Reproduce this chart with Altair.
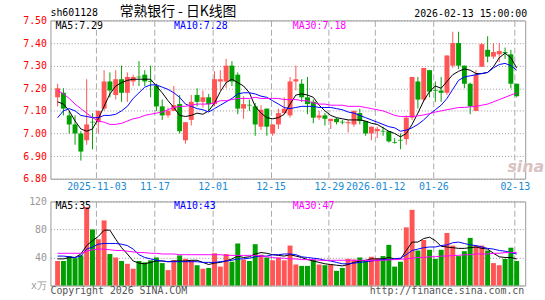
import altair as alt
import pandas as pd

# ---------------- data ----------------
# candle index 0 = 2025-10-23 ... 79 = 2026-02-13 (trading days)
opens = [7.16, 7.18, 7.08, 7.04, 7.00, 6.97, 7.05, 7.05, 7.11, 7.23,
         7.17, 7.24, 7.18, 7.23, 7.25, 7.26, 7.23, 7.21, 7.12, 7.08,
         7.10, 7.13, 6.97, 7.06, 7.17, 7.14, 7.16, 7.13, 7.23, 7.23,
         7.30, 7.26, 7.11, 7.125, 7.12, 7.03, 7.11, 7.00, 7.04, 7.09,
         7.08, 7.23, 7.22, 7.16, 7.14, 7.07, 7.08, 7.055, 7.065, 7.05,
         7.045, 7.04, 7.09, 7.055, 7.00, 7.01, 7.01, 7.01, 6.96, 6.97,
         6.975, 7.07, 7.23, 7.15, 7.28, 7.19, 7.19, 7.18, 7.30, 7.40,
         7.30, 7.22, 7.10, 7.295, 7.37, 7.34, 7.35, 7.36, 7.35, 7.22]
closes = [7.20, 7.11, 7.04, 7.00, 6.92, 7.04, 7.05, 7.10, 7.23, 7.19,
          7.24, 7.18, 7.25, 7.25, 7.25, 7.23, 7.23, 7.12, 7.08, 7.10,
          7.125, 7.01, 7.05, 7.14, 7.14, 7.16, 7.13, 7.24, 7.24, 7.30,
          7.23, 7.11, 7.13, 7.125, 7.04, 7.105, 7.03, 7.04, 7.09, 7.11,
          7.23, 7.24, 7.16, 7.13, 7.07, 7.08, 7.065, 7.065, 7.05, 7.05,
          7.05, 7.10, 7.055, 7.00, 7.03, 7.02, 7.01, 6.965, 6.96, 6.97,
          7.07, 7.25, 7.15, 7.29, 7.185, 7.19, 7.18, 7.345, 7.40, 7.30,
          7.22, 7.12, 7.26, 7.395, 7.34, 7.36, 7.365, 7.355, 7.22, 7.165]
highs = [7.22, 7.20, 7.10, 7.08, 7.01, 7.24, 7.09, 7.10, 7.28, 7.27,
         7.28, 7.30, 7.27, 7.26, 7.32, 7.28, 7.30, 7.22, 7.15, 7.115,
         7.21, 7.17, 7.05, 7.17, 7.20, 7.19, 7.175, 7.275, 7.28, 7.33,
         7.32, 7.27, 7.165, 7.15, 7.135, 7.125, 7.11, 7.04, 7.11, 7.16,
         7.25, 7.30, 7.24, 7.25, 7.15, 7.10, 7.09, 7.065, 7.07, 7.06,
         7.06, 7.10, 7.11, 7.055, 7.03, 7.03, 7.03, 7.01, 6.98, 7.00,
         7.08, 7.25, 7.25, 7.29, 7.28, 7.23, 7.25, 7.345, 7.45, 7.45,
         7.30, 7.225, 7.28, 7.40, 7.43, 7.40, 7.40, 7.38, 7.37, 7.22]
lows = [7.12, 7.08, 7.00, 6.95, 6.88, 6.95, 6.93, 7.00, 7.10, 7.16,
        7.15, 7.14, 7.14, 7.21, 7.21, 7.21, 7.16, 7.10, 7.06, 7.07,
        7.10, 7.00, 6.955, 7.035, 7.12, 7.115, 7.10, 7.12, 7.19, 7.20,
        7.21, 7.085, 7.065, 7.10, 6.99, 7.015, 6.99, 6.99, 7.02, 7.09,
        7.07, 7.19, 7.14, 7.085, 7.045, 7.06, 7.035, 7.02, 7.04, 7.04,
        7.005, 7.03, 7.04, 6.99, 6.97, 6.98, 6.99, 6.96, 6.955, 6.93,
        6.95, 7.06, 7.11, 7.14, 7.16, 7.14, 7.14, 7.17, 7.29, 7.285,
        7.20, 7.085, 7.10, 7.295, 7.315, 7.33, 7.315, 7.33, 7.20, 7.16]
volumes = [35, 35, 42, 39, 43, 112, 80, 66, 93, 45,
           40, 35, 31, 24, 35, 33, 36, 40, 32, 22,
           36, 43, 38, 36, 29, 24, 25, 46, 27, 45,
           34, 60, 37, 35, 59, 44, 40, 36, 40, 36,
           57, 30, 28, 28, 37, 30, 29, 30, 21, 25,
           38, 37, 40, 35, 41, 39, 42, 58, 27, 34,
           83, 108, 50, 65, 51, 38, 51, 75, 57, 42,
           49, 68, 57, 57, 50, 32, 29, 38, 54, 35]
ma5 = [7.14, 7.13, 7.10, 7.055, 7.02, 7.01, 7.02, 7.065, 7.12, 7.175,
       7.21, 7.225, 7.235, 7.24, 7.24, 7.24, 7.24, 7.21, 7.18, 7.145,
       7.115, 7.08, 7.075, 7.08, 7.09, 7.085, 7.10, 7.135, 7.185, 7.225,
       7.24, 7.225, 7.21, 7.18, 7.12, 7.09, 7.07, 7.065, 7.07, 7.085,
       7.13, 7.17, 7.175, 7.17, 7.16, 7.125, 7.10, 7.08, 7.07, 7.065,
       7.06, 7.06, 7.06, 7.055, 7.045, 7.04, 7.025, 7.01, 7.00, 6.985,
       7.00, 7.04, 7.09, 7.145, 7.185, 7.21, 7.20, 7.23, 7.26, 7.275,
       7.285, 7.28, 7.265, 7.265, 7.27, 7.295, 7.335, 7.355, 7.335, 7.29]
ma10 = [7.07, 7.10, 7.11, 7.10, 7.08, 7.075, 7.07, 7.07, 7.08, 7.08,
        7.085, 7.10, 7.12, 7.155, 7.18, 7.205, 7.215, 7.215, 7.205, 7.195,
        7.18, 7.16, 7.13, 7.12, 7.11, 7.105, 7.095, 7.11, 7.125, 7.14,
        7.155, 7.175, 7.18, 7.18, 7.175, 7.165, 7.16, 7.145, 7.13, 7.115,
        7.11, 7.115, 7.12, 7.12, 7.12, 7.115, 7.115, 7.115, 7.11, 7.105,
        7.095, 7.09, 7.08, 7.07, 7.06, 7.05, 7.04, 7.03, 7.025, 7.01,
        7.015, 7.025, 7.04, 7.06, 7.085, 7.105, 7.125, 7.155, 7.195, 7.235,
        7.25, 7.255, 7.26, 7.265, 7.27, 7.29, 7.305, 7.31, 7.30, 7.28]
ma30 = [7.19, 7.175, 7.155, 7.13, 7.11, 7.09, 7.07, 7.055, 7.05, 7.04,
        7.04, 7.045, 7.055, 7.065, 7.07, 7.08, 7.085, 7.09, 7.095, 7.105,
        7.115, 7.12, 7.12, 7.125, 7.13, 7.13, 7.13, 7.135, 7.145, 7.145,
        7.15, 7.155, 7.155, 7.155, 7.16, 7.155, 7.155, 7.155, 7.155, 7.15,
        7.15, 7.15, 7.145, 7.145, 7.135, 7.13, 7.13, 7.125, 7.125, 7.125,
        7.12, 7.12, 7.12, 7.115, 7.11, 7.105, 7.10, 7.09, 7.08, 7.075,
        7.075, 7.075, 7.078, 7.082, 7.088, 7.095, 7.10, 7.105, 7.11, 7.115,
        7.115, 7.118, 7.12, 7.125, 7.13, 7.14, 7.15, 7.16, 7.17, 7.18]
vma5 = [38, 38, 40, 40, 45, 57, 64, 70, 79, 79,
        66, 54, 45, 35, 32, 31, 33, 35, 35, 34,
        35, 35, 35, 36, 36, 33, 30, 32, 33, 35,
        38, 42, 40, 41, 45, 47, 46, 44, 43, 42,
        44, 42, 40, 37, 35, 33, 31, 30, 29, 28,
        30, 33, 35, 36, 38, 38, 38, 40, 38, 38,
        50, 62, 62, 67, 69, 64, 56, 55, 54, 53,
        53, 54, 55, 53, 52, 46, 41, 40, 40, 38]
vma10 = [42, 42, 41, 40, 42, 52, 55, 59, 60, 60,
         60, 59, 57, 52, 44, 40, 38, 36, 35, 34,
         34, 34, 34, 34, 34, 33, 33, 33, 34, 35,
         36, 38, 38, 39, 41, 42, 42, 44, 44, 45,
         45, 44, 41, 40, 39, 38, 36, 35, 33, 31,
         31, 32, 33, 34, 35, 36, 37, 37, 38, 39,
         44, 50, 52, 54, 55, 55, 57, 58, 61, 62,
         60, 58, 57, 55, 53, 52, 50, 49, 47, 45]
vma30 = [46, 46, 46, 46, 46, 49, 51, 52, 52, 51,
         50, 50, 49, 48, 47, 47, 46, 46, 45, 45,
         45, 44, 44, 44, 44, 44, 44, 44, 44, 43,
         43, 43, 43, 43, 43, 42, 41, 40, 39, 39,
         38, 38, 37, 37, 37, 36, 36, 36, 36, 36,
         36, 36, 36, 36, 36, 36, 36, 36.5, 37, 37.5,
         38, 39, 40, 40, 41, 41, 42, 42, 43, 43,
         44, 44, 45, 45, 45, 46, 46, 47, 47, 47]

date_index = [7, 17, 27, 37, 47, 55, 65, 79]
date_labels = ["2025-11-03", "11-17", "12-01", "12-15", "12-29",
               "2026-01-12", "01-26", "02-13"]
price_ticks = [6.80, 6.90, 7.00, 7.10, 7.20, 7.30, 7.40, 7.50]
volume_ticks = [0, 40, 80, 120]
ma_names = ["MA5", "MA10", "MA30"]
price_ma_text = ["7.29", "7.28", "7.18"]
volume_ma_text = ["35", "43", "47"]
symbol = "sh601128"
title_text = "常熟银行 - 日K线图"
time_text = "2026-02-13 15:00:00"
copyright_text = "Copyright 2026 SINA.COM"
url_text = "http://finance.sina.com.cn"

# ---------------- styling ----------------
RED = "#FF5555"
GREEN = "#00A000"
MA_COLORS = ["#000000", "#0000FF", "#FF00FF"]
MONO = "DejaVu Sans Mono"
CJK = "Noto Sans CJK SC"
W, H_PRICE, H_VOL = 480, 160, 85

n = len(closes)
df = pd.DataFrame({
    "i": list(range(n)), "o": opens, "c": closes, "h": highs, "l": lows,
    "v": volumes, "ma5": ma5, "ma10": ma10, "ma30": ma30,
    "vma5": vma5, "vma10": vma10, "vma30": vma30,
})
df["dir"] = ["up" if c > o else "down" for o, c in zip(opens, closes)]

tick_pos = [d - 0.33 for d in date_index]
expr = "''"
for p, lab in reversed(list(zip(tick_pos, date_labels))):
    expr = f"abs(datum.value - {p}) < 0.2 ? '{lab}' : ({expr})"

xs = alt.Scale(domain=[-0.383, 79.617], nice=False, zero=False)
x_axis_top = alt.Axis(values=tick_pos, labelExpr=expr, title=None, grid=True,
                      gridDash=[6, 3], gridColor="#AAAAAA", ticks=False, domain=False,
                      labelColor="#1A8AD4", labelFont=MONO, labelFontSize=10,
                      labelPadding=3, labelFlush=8, labelOverlap=False)
x_axis_bot = alt.Axis(values=tick_pos, labels=False, title=None, grid=True,
                      gridDash=[6, 3], gridColor="#AAAAAA", ticks=False, domain=False)
X_TOP = alt.X("i:Q", scale=xs, axis=x_axis_top)
X_BOT = alt.X("i:Q", scale=xs, axis=x_axis_bot)

ys_price = alt.Scale(domain=[6.80, 7.50], nice=False, zero=False)
y_axis_price = alt.Axis(values=price_ticks, format=".2f", title=None, grid=True,
                        gridDash=[1, 2], gridColor="#999999", ticks=False, domain=False,
                        labelColor="#FF0000", labelFont=MONO, labelFontSize=10,
                        labelPadding=4, labelOverlap=False, labelBound=False,
                        tickCount=8)
ys_vol = alt.Scale(domain=[0, 120], nice=False, zero=True)
y_axis_vol = alt.Axis(values=volume_ticks, title=None, grid=True,
                      labelExpr="datum.value == 0 ? 'x万' : datum.label",
                      gridDash=[1, 2], gridColor="#999999", ticks=False, domain=False,
                      labelColor="#999999", labelFont=MONO, labelFontSize=10,
                      labelPadding=4, labelOverlap=False, labelBound=False,
                      tickCount=4)


def YP(field):
    return alt.Y(f"{field}:Q", scale=ys_price, axis=y_axis_price)


def YV(field):
    return alt.Y(f"{field}:Q", scale=ys_vol, axis=y_axis_vol)


color = alt.Color("dir:N", scale=alt.Scale(domain=["up", "down"], range=[RED, GREEN]),
                  legend=None)

base = alt.Chart(df)
one = pd.DataFrame({"k": [0]})


def text_layer(txt, x, y, col, size=10, font=MONO, align="left", **kw):
    return alt.Chart(one).mark_text(text=txt, align=align, baseline="middle",
                                    font=font, fontSize=size, color=col, **kw).encode(
        x=alt.value(x), y=alt.value(y))


# invisible frame fixing the full 545x300 canvas
canvas = alt.Chart(one).mark_rect(opacity=0).encode(
    x=alt.value(-50), x2=alt.value(495), y=alt.value(-18), y2=alt.value(282))

wicks = base.mark_rule(strokeWidth=1).encode(
    x=X_TOP, y=YP("l"), y2="h:Q", color=color)
bodies = base.mark_bar(size=5).encode(x=X_TOP, y=YP("o"), y2="c:Q", color=color)
crosses = base.transform_filter("datum.o == datum.c").mark_tick(
    orient="horizontal", size=5, thickness=1).encode(x=X_TOP, y=YP("c"), color=color)
price_lines = [base.mark_line(strokeWidth=1, color=col).encode(x=X_TOP, y=YP(f))
               for f, col in zip(["ma5", "ma10", "ma30"], MA_COLORS)]

price_texts = [
    text_layer(symbol, 0, -7, "#000000"),
    text_layer(title_text, 70, -8, "#000000", size=14, font=CJK),
    text_layer(time_text, 482, -6, "#000000", align="right"),
    text_layer("sina", 462, 148, "#D9C2C2", size=16, font="DejaVu Sans",
               fontStyle="italic", fontWeight="bold"),
]
for k, (nm, val, col) in enumerate(zip(ma_names, price_ma_text, MA_COLORS)):
    price_texts.append(text_layer(f"{nm}:{val}", 5 + 120 * k, 6, col))

price = alt.layer(canvas, wicks, bodies, crosses, *price_lines, *price_texts).properties(
    width=W, height=H_PRICE)

vbars = base.mark_bar(size=5).encode(x=X_BOT, y=YV("v"), color=color)
vol_lines = [base.mark_line(strokeWidth=1, color=col).encode(x=X_BOT, y=YV(f))
             for f, col in zip(["vma5", "vma10", "vma30"], MA_COLORS)]
vol_texts = [
    text_layer(copyright_text, 0, 91, "#555555"),
    text_layer(url_text, 479, 91, "#555555", align="right"),
]
for k, (nm, val, col) in enumerate(zip(ma_names, volume_ma_text, MA_COLORS)):
    vol_texts.append(text_layer(f"{nm}:{val}", 5 + 120 * k, 5, col))

volume = alt.layer(vbars, *vol_lines, *vol_texts).properties(width=W, height=H_VOL)

chart = alt.vconcat(price, volume, spacing=23, bounds="flush").properties(
    padding=0, background="#FFFFFF"
).configure_view(stroke="#999999", strokeWidth=1).configure_axis(labelOverlap=False)

chart.save("out.html", embed_options={"renderer": "svg", "actions": False})
